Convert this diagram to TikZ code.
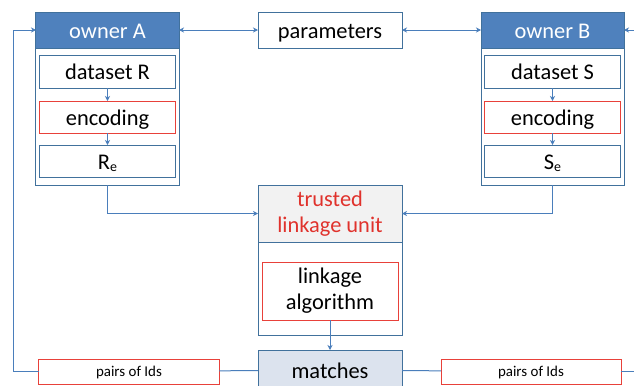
\documentclass[tikz,border=0pt]{standalone}
\usepackage{fontspec}
\setmainfont{Carlito}
\usetikzlibrary{arrows.meta}
\definecolor{hdrblue}{HTML}{4F81BD}
\definecolor{bordblue}{HTML}{41719C}
\definecolor{lineblue}{HTML}{4A7EBB}
\definecolor{redb}{HTML}{E8413A}
\definecolor{redt}{HTML}{E0322C}
\definecolor{grayfill}{HTML}{F2F2F2}
\definecolor{matchfill}{HTML}{DCE3EE}
\tikzset{
  base/.style={inner sep=0pt, outer sep=0pt, line width=1bp, align=center,
    font=\fontsize{22.5}{26}\selectfont, text height=19bp, text depth=3bp},
  multi/.style={text height=, text depth=},
  bluebox/.style={base, draw=bordblue, fill=white},
  redbox/.style={base, draw=redb, fill=white},
  hdr/.style={base, draw=bordblue, fill=hdrblue, text=white},
  conn/.style={draw=lineblue, line width=1bp},
  tip/.style={-{Stealth[length=5bp,width=5bp,inset=1.5bp]}},
  tips/.style={{Stealth[length=5bp,width=5bp,inset=1.5bp]}-{Stealth[length=5bp,width=5bp,inset=1.5bp]}},
  small/.style={font=\fontsize{15}{17}\selectfont, text height=12bp, text depth=2bp}
}
\begin{document}
\begin{tikzpicture}[x=1bp,y=-1bp]
\useasboundingbox (0,0) rectangle (634,385);
% owner A
\node[bluebox, minimum width=143bp, minimum height=173bp] (oA) at (107.5,98.5) {};
\node[hdr, minimum width=143bp, minimum height=36bp] (hA) at (107.5,30) {owner A};
\node[bluebox, minimum width=136bp, minimum height=33bp] (dR) at (107.5,71.5) {dataset R};
\node[redbox, minimum width=136bp, minimum height=32bp] (eA) at (107.5,117) {encoding};
\node[bluebox, minimum width=136bp, minimum height=32bp] (Re) at (107.5,161) {R{\fontsize{14}{14}\selectfont\raisebox{-2.5bp}{e}}};
% owner B
\node[bluebox, minimum width=143bp, minimum height=173bp] (oB) at (552.5,98.5) {};
\node[hdr, minimum width=143bp, minimum height=36bp] (hB) at (552.5,30) {owner B};
\node[bluebox, minimum width=136bp, minimum height=33bp] (dS) at (552.5,71.5) {dataset S};
\node[redbox, minimum width=136bp, minimum height=32bp] (eB) at (552.5,117) {encoding};
\node[bluebox, minimum width=136bp, minimum height=32bp] (Se) at (552.5,161) {S{\fontsize{14}{14}\selectfont\raisebox{-2.5bp}{e}}};
% parameters
\node[bluebox, minimum width=144bp, minimum height=36bp] (par) at (330,30) {parameters};
% trusted linkage unit
\node[bluebox, minimum width=144bp, minimum height=150bp] (tlu) at (330,260) {};
\node[base, multi, draw=bordblue, fill=grayfill, text=redt, minimum width=144bp, minimum height=57bp] (th) at (330,213.5) {trusted\\linkage unit};
\node[redbox, multi, minimum width=136bp, minimum height=58bp] (la) at (330,291) {linkage\\algorithm};
% matches
\node[base, draw=bordblue, fill=matchfill, minimum width=144bp, minimum height=40bp] (m) at (330,370) {matches};
% pairs of Ids
\node[redbox, small, minimum width=180bp, minimum height=25bp] (pL) at (129,371.5) {pairs of Ids};
\node[redbox, small, minimum width=180bp, minimum height=25bp] (pR) at (531,371.5) {pairs of Ids};
\coordinate (cl) at (13,371.5);
\coordinate (cr) at (648,371.5);
% connectors
\draw[conn, tips] (hA.east) -- (par.west);
\draw[conn, tips] (par.east) -- (hB.west);
\draw[conn, tip] (dR) -- (eA);
\draw[conn, tip] (eA) -- (Re);
\draw[conn, tip] (dS) -- (eB);
\draw[conn, tip] (eB) -- (Se);
\draw[conn, tip] (oA.south) |- (th.west);
\draw[conn, tip] (oB.south) |- (th.east);
\draw[conn, tip] (la) -- (m);
\draw[conn] (pL) -- (m);
\draw[conn] (m) -- (pR);
\draw[conn, tip] (pL.west) -- (cl) |- (hA.west);
\draw[conn, tip] (pR.east) -- (cr) |- (hB.east);
\end{tikzpicture}
\end{document}
